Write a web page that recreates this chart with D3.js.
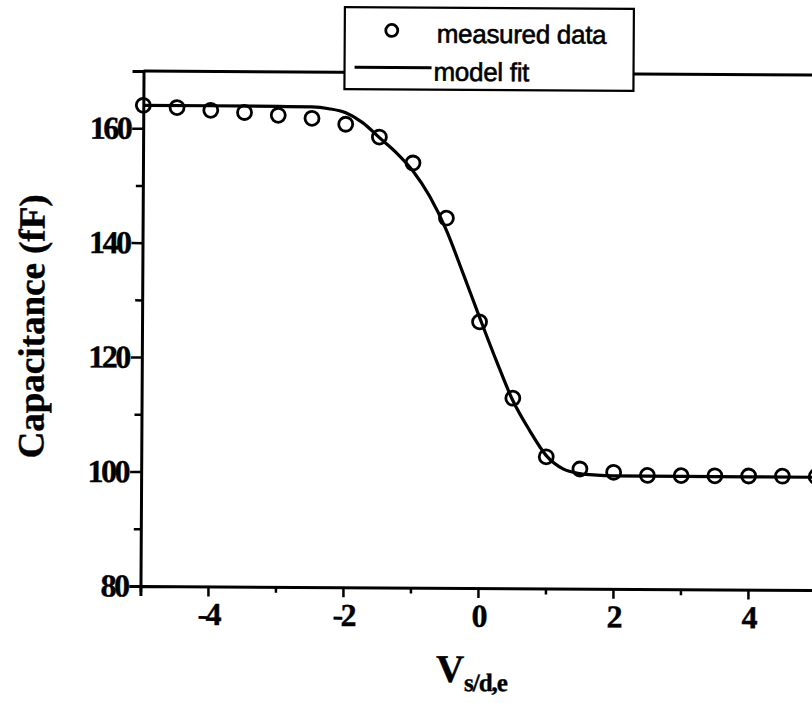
<!DOCTYPE html>
<html>
<head>
<meta charset="utf-8">
<script src="https://cdn.jsdelivr.net/npm/d3@7"></script>
<style>
  html, body { margin: 0; padding: 0; background: #fff; }
  svg { display: block; }
</style>
</head>
<body>
<svg id="chart" width="812" height="703"></svg>
<script>
// Gate voltage sweep points (V)
const voltages = [-5, -4.5, -4, -3.5, -3, -2.5, -2, -1.5, -1, -0.5, 0, 0.5, 1, 1.5, 2, 2.5, 3, 3.5, 4, 4.5, 5];
// Measured capacitance (fF)
const measured = [164.0, 163.65, 163.2, 162.85, 162.4, 161.9, 160.9, 158.7, 154.2, 144.6, 126.5, 113.2, 103.0, 100.9, 100.35, 99.85, 99.85, 99.85, 99.85, 99.85, 99.8];
// Model fit curve samples
const fitVoltages = [-5, -4, -3, -2.5, -2.25, -2, -1.75, -1.5, -1.25, -1, -0.75, -0.5, -0.25, 0, 0.25, 0.5, 0.75, 1, 1.25, 1.5, 1.75, 2, 3, 4, 5];
const fitCap = [164.0, 164.0, 163.95, 163.9, 163.6, 162.9, 161.2, 158.6, 156.0, 152.8, 148.4, 142.5, 135.0, 127.3, 119.8, 112.8, 107.6, 103.2, 100.9, 100.1, 99.85, 99.75, 99.7, 99.7, 99.7];
// Axis ticks
const xMajorTicks = [-4, -2, 0, 2, 4];
const xMinorTicks = [-5, -3, -1, 1, 3];
const yMajorTicks = [80, 100, 120, 140, 160];
const yMinorTicks = [90, 110, 130, 150];
const legendLabels = ["measured data", "model fit"];

const svg = d3.select("#chart");
svg.append("rect").attr("width", 812).attr("height", 703).attr("fill", "#fff");

// whole figure sits at a slight tilt
const g = svg.append("g").attr("transform", "rotate(0.34, 480, 330)");

const x = d3.scaleLinear().domain([-5, 5]).range([142, 817]);
const y = d3.scaleLinear().domain([80, 170]).range([588, 73]);

// top frame line
g.append("line")
  .attr("x1", x(-5)).attr("x2", x(5))
  .attr("y1", y(170)).attr("y2", y(170))
  .attr("stroke", "#000").attr("stroke-width", 3);

// x axis (major + minor ticks)
const xAxisG = g.append("g").attr("transform", `translate(0,${y(80)})`);
xAxisG.call(d3.axisBottom(x).tickValues(xMajorTicks).tickSize(10).tickPadding(6).tickFormat(d => String(d)));
xAxisG.append("g").call(d3.axisBottom(x).tickValues(xMinorTicks).tickSize(6).tickFormat(""))
  .select(".domain").remove();

// y axis (major + minor ticks)
const yAxisG = g.append("g").attr("transform", `translate(${x(-5)},0)`);
yAxisG.call(d3.axisLeft(y).tickValues(yMajorTicks).tickSize(11).tickPadding(2).tickFormat(d => String(d)));
yAxisG.append("g").call(d3.axisLeft(y).tickValues(yMinorTicks).tickSize(7).tickFormat(""))
  .select(".domain").remove();

g.selectAll(".domain").attr("stroke", "#000").attr("stroke-width", 3);
g.selectAll(".tick line").attr("stroke", "#000").attr("stroke-width", 2.5);
g.selectAll(".tick text")
  .attr("font-family", "Liberation Serif, Times New Roman, serif")
  .attr("font-weight", "bold")
  .attr("font-size", 32)
  .attr("letter-spacing", -2.5)
  .attr("fill", "#000")
  .attr("stroke", "#000").attr("stroke-width", 0.4);

// model fit curve
const line = d3.line()
  .x((d, i) => x(fitVoltages[i]))
  .y(d => y(d))
  .curve(d3.curveMonotoneX);
g.append("path")
  .datum(fitCap)
  .attr("d", line)
  .attr("fill", "none")
  .attr("stroke", "#000")
  .attr("stroke-width", 3.2);

// measured points
g.append("g").selectAll("circle")
  .data(measured)
  .join("circle")
  .attr("cx", (d, i) => x(voltages[i]))
  .attr("cy", d => y(d))
  .attr("r", 7)
  .attr("fill", "none")
  .attr("stroke", "#000")
  .attr("stroke-width", 2.8);

// axis titles
g.append("text")
  .attr("transform", "translate(44,329) rotate(-90)")
  .attr("text-anchor", "middle")
  .attr("font-family", "Liberation Serif, Times New Roman, serif")
  .attr("font-weight", "bold")
  .attr("font-size", 37)
  .attr("stroke", "#000").attr("stroke-width", 0.4)
  .text("Capacitance (fF)");

const xt = g.append("text")
  .attr("x", 438).attr("y", 682)
  .attr("font-family", "Liberation Serif, Times New Roman, serif")
  .attr("font-weight", "bold")
  .attr("font-size", 39)
  .attr("stroke", "#000").attr("stroke-width", 0.4);
xt.append("tspan").text("V");
xt.append("tspan").attr("font-size", 25).attr("dy", 9).attr("letter-spacing", -1).text("s/d,e");

// legend
const lg = g.append("g");
lg.append("rect")
  .attr("x", 343).attr("y", 8).attr("width", 289).attr("height", 82)
  .attr("fill", "#fff").attr("stroke", "#000").attr("stroke-width", 2.2);
lg.append("circle")
  .attr("cx", 390).attr("cy", 31).attr("r", 6)
  .attr("fill", "none").attr("stroke", "#000").attr("stroke-width", 2.8);
lg.append("line")
  .attr("x1", 353).attr("x2", 430).attr("y1", 68).attr("y2", 68)
  .attr("stroke", "#000").attr("stroke-width", 3);
lg.selectAll("text.leg")
  .data(legendLabels)
  .join("text")
  .attr("class", "leg")
  .attr("x", (d, i) => i === 0 ? 435 : 432)
  .attr("y", (d, i) => i === 0 ? 43 : 81)
  .attr("font-family", "Liberation Sans, Arial, sans-serif")
  .attr("font-size", 26)
  .attr("letter-spacing", -0.3)
  .attr("fill", "#000")
  .attr("stroke", "#000").attr("stroke-width", 0.6)
  .text(d => d);
</script>
</body>
</html>
